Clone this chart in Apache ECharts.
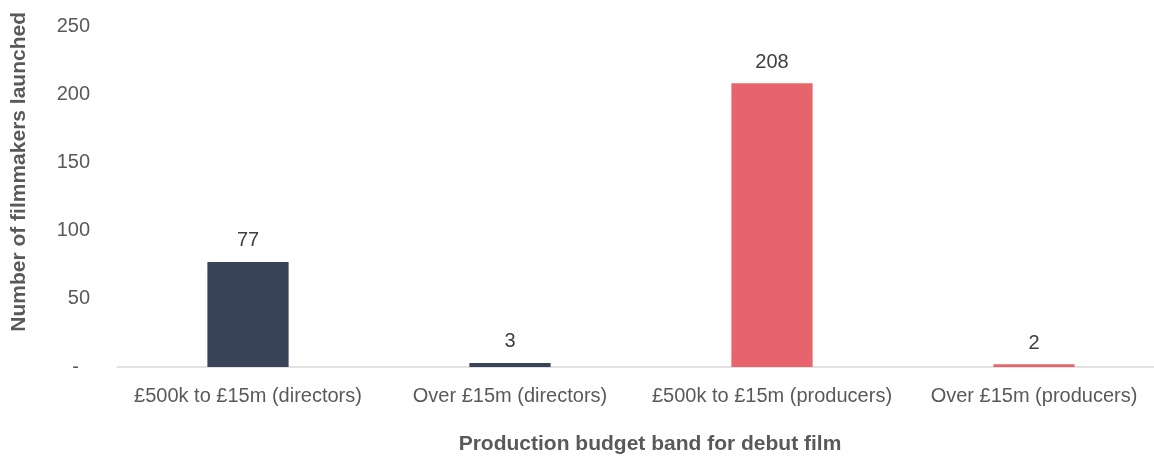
<!DOCTYPE html>
<html>
<head>
<meta charset="utf-8">
<script src="https://cdn.jsdelivr.net/npm/echarts@6/dist/echarts.min.js"></script>
<style>
  html, body { margin: 0; padding: 0; background: #ffffff; }
  #chart { width: 1154px; height: 456px; }
</style>
</head>
<body>
<div id="chart"></div>
<script>
// Debut-film budget bands and the number of filmmakers launched in each
const categories = [
  '£500k to £15m (directors)',
  'Over £15m (directors)',
  '£500k to £15m (producers)',
  'Over £15m (producers)'
];
const values = [77, 3, 208, 2];
const barColors = ['#3a4458', '#3a4458', '#e8646d', '#e8646d'];
const yTicks = [0, 50, 100, 150, 200, 250];

const textColor = '#595959';
const font = 'Liberation Sans, Arial, sans-serif';

const chart = echarts.init(document.getElementById('chart'));
chart.setOption({
  animation: false,
  backgroundColor: '#ffffff',
  grid: { left: 117, right: -11, top: 26, bottom: 89, outerBoundsMode: 'none', containLabel: false },
  xAxis: {
    type: 'category',
    data: categories,
    name: 'Production budget band for debut film',
    nameLocation: 'middle',
    nameGap: 67,
    nameTextStyle: {
      color: textColor, fontSize: 21, fontWeight: 'bold', fontFamily: font,
      padding: [0, 0, 0, 18]
    },
    axisLine: { lineStyle: { color: '#d9d9d9', width: 1.5 } },
    axisTick: { show: false },
    axisLabel: { color: textColor, fontSize: 20, fontFamily: font, margin: 19, interval: 0 }
  },
  yAxis: {
    type: 'value',
    min: yTicks[0],
    max: yTicks[yTicks.length - 1],
    interval: 50,
    axisLine: { show: false },
    axisTick: { show: false },
    splitLine: { show: false },
    axisLabel: {
      color: textColor, fontSize: 20, fontFamily: font, margin: 27,
      formatter: v => (v === 0 ? '-  ' : String(v))
    }
  },
  graphic: [{
    type: 'text',
    left: 9,
    top: 12,
    rotation: Math.PI / 2,
    style: {
      text: 'Number of filmmakers launched',
      fill: textColor,
      font: 'bold 21px ' + font
    }
  }],
  series: [{
    type: 'bar',
    data: values.map((v, i) => ({ value: v, itemStyle: { color: barColors[i] } })),
    barWidth: '31%',
    label: {
      show: true,
      position: 'top',
      distance: 11,
      color: '#404040',
      fontSize: 20,
      fontFamily: font
    }
  }]
});
</script>
</body>
</html>
